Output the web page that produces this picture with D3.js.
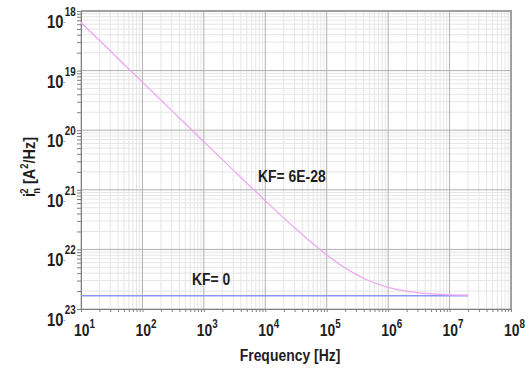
<!DOCTYPE html>
<html>
<head>
<meta charset="utf-8">
<script src="https://cdn.jsdelivr.net/npm/d3@7"></script>
<style>
  body { margin: 0; background: #fff; }
  svg text { font-family: "Liberation Sans", Arial, sans-serif; font-weight: bold; fill: #1e1e1e; }
</style>
</head>
<body>
<div id="chart"></div>
<script>
// Datos
const xDecades = [1, 2, 3, 4, 5, 6, 7, 8];          // exponentes de 10 en el eje x
const yDecades = [-18, -19, -20, -21, -22, -23];     // exponentes de 10 en el eje y
const yLabels = ["18", "19", "20", "21", "22", "23"];

// Curva KF = 6E-28 (frecuencia, densidad)
const kfFreq = [10, 31.6, 100, 316, 1e3, 3.16e3, 1e4, 3.16e4, 1e5, 2e5, 3.16e5, 5e5, 1e6, 2e6, 3.16e6, 5e6, 1e7, 2e7];
const kfNoise = [6.4e-19, 2.03e-19, 6.4e-20, 2.03e-20, 6.42e-21, 2.04e-21, 6.57e-22, 2.19e-22, 8.07e-23, 4.87e-23, 3.7e-23, 2.95e-23, 2.31e-23, 1.99e-23, 1.87e-23, 1.80e-23, 1.73e-23, 1.70e-23];

// Curva KF = 0
const flatFreq = [10, 2e7];
const flatNoise = [1.67e-23, 1.67e-23];

const width = 531, height = 370;
const margin = { left: 81, right: 20, top: 11, bottom: 61 };
const NARROW = 0.82; // simula una fuente estrecha (Arial Narrow)

const svg = d3.select("#chart").append("svg")
    .attr("width", width)
    .attr("height", height);

const x = d3.scaleLog().domain([1e1, 1e8]).range([margin.left, width - margin.right]);
const y = d3.scaleLog().domain([1e-23, 1e-18]).range([height - margin.bottom, margin.top]);

// Texto estrecho colocado en (px, py)
function narrowText(parent, px, py, size) {
    return parent.append("text")
        .attr("transform", `translate(${px},${py}) scale(${NARROW},1)`)
        .style("font-size", size + "px");
}

// Rejilla menor
const minorX = [];
xDecades.slice(0, -1).forEach(e => { for (let k = 2; k <= 9; k++) minorX.push(k * Math.pow(10, e)); });
const minorY = [];
yDecades.slice(1).forEach(e => { for (let k = 2; k <= 9; k++) minorY.push(k * Math.pow(10, e)); });

svg.append("g").selectAll("line")
    .data(minorX).enter().append("line")
    .attr("x1", d => x(d)).attr("x2", d => x(d))
    .attr("y1", y.range()[0]).attr("y2", y.range()[1])
    .attr("stroke", "#e6e6e6").attr("stroke-width", 1);

svg.append("g").selectAll("line")
    .data(minorY).enter().append("line")
    .attr("y1", d => y(d)).attr("y2", d => y(d))
    .attr("x1", x.range()[0]).attr("x2", x.range()[1])
    .attr("stroke", "#e6e6e6").attr("stroke-width", 1);

// Rejilla mayor
svg.append("g").selectAll("line")
    .data(xDecades).enter().append("line")
    .attr("x1", d => x(Math.pow(10, d))).attr("x2", d => x(Math.pow(10, d)))
    .attr("y1", y.range()[0]).attr("y2", y.range()[1])
    .attr("stroke", "#b0b0b0").attr("stroke-width", 1);

svg.append("g").selectAll("line")
    .data(yDecades).enter().append("line")
    .attr("y1", d => y(Math.pow(10, d))).attr("y2", d => y(Math.pow(10, d)))
    .attr("x1", x.range()[0]).attr("x2", x.range()[1])
    .attr("stroke", "#b0b0b0").attr("stroke-width", 1);

// Marco superior y derecho
svg.append("path")
    .attr("d", `M${x.range()[0]},${y.range()[1]}H${x.range()[1]}V${y.range()[0]}`)
    .attr("fill", "none").attr("stroke", "#a0a0a0").attr("stroke-width", 2);

// Ejes con marcas pequeñas
const xAxis = d3.axisBottom(x).tickValues(minorX.concat(xDecades.map(e => Math.pow(10, e))))
    .tickSize(3).tickFormat("");
svg.append("g").attr("transform", `translate(0,${y.range()[0]})`).call(xAxis)
    .call(g => g.selectAll("line,path").attr("stroke", "#808080"));

const yAxis = d3.axisLeft(y).tickValues(minorY.concat(yDecades.map(e => Math.pow(10, e))))
    .tickSize(4).tickFormat("");
svg.append("g").attr("transform", `translate(${x.range()[0]},0)`).call(yAxis)
    .call(g => g.selectAll("line,path").attr("stroke", "#808080"));

// Etiquetas del eje x
xDecades.forEach(e => {
    const t = narrowText(svg, x(Math.pow(10, e)) - 7, 336, 17);
    t.append("tspan").text("10");
    t.append("tspan").attr("dy", -8).style("font-size", "12px").text(e);
});

// Etiquetas del eje y (el signo menos casi no se ve en el original)
yDecades.forEach((e, i) => {
    const t = narrowText(svg, 47, y(Math.pow(10, e)) + 17, 18);
    t.append("tspan").text("10");
    t.append("tspan").attr("dy", -4).style("font-size", "5px").text("-");
    t.append("tspan").attr("dy", -8).style("font-size", "12px").text(yLabels[i]);
});

// Curvas
const line = d3.line().x(d => x(d[0])).y(d => y(d[1])).curve(d3.curveMonotoneX);

svg.append("path")
    .datum(d3.zip(flatFreq, flatNoise))
    .attr("d", line)
    .attr("fill", "none").attr("stroke", "#8c96f0").attr("stroke-width", 1.5);

svg.append("path")
    .datum(d3.zip(kfFreq, kfNoise))
    .attr("d", line)
    .attr("fill", "none").attr("stroke", "#eea6f2").attr("stroke-width", 1.3);

// Anotaciones
narrowText(svg, 258, 182, 17).text("KF= 6E-28");
narrowText(svg, 192, 285, 17).text("KF= 0");

// Títulos de los ejes
narrowText(svg, 290, 361, 17).attr("text-anchor", "middle").text("Frequency [Hz]");

const yt = svg.append("text")
    .attr("transform", "translate(35,167) rotate(-90) scale(0.85,1)")
    .attr("text-anchor", "middle")
    .style("font-size", "17px");
yt.append("tspan").text("i");
yt.append("tspan").attr("dy", -7).attr("dx", -1).style("font-size", "11px").text("2");
yt.append("tspan").attr("dy", 12).attr("dx", -6).style("font-size", "11px").text("n");
yt.append("tspan").attr("dy", -5).text(" [A");
yt.append("tspan").attr("dy", -7).style("font-size", "11px").text("2");
yt.append("tspan").attr("dy", 7).text("/Hz]");
</script>
</body>
</html>
